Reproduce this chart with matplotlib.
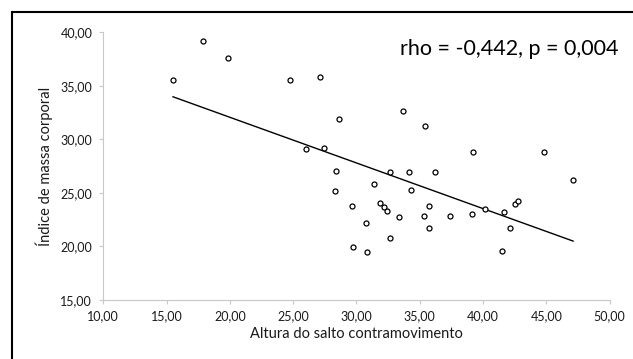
import numpy as np
import matplotlib
matplotlib.use('Agg')
import matplotlib.pyplot as plt
from matplotlib.patches import Rectangle
from matplotlib.ticker import FuncFormatter

plt.rcParams['font.family'] = ['Lato', 'DejaVu Sans']

# ---- data ----
salto = [15.51, 17.87, 19.87, 24.72, 27.12, 28.66, 25.99, 27.43, 33.65, 35.39,
         28.36, 32.62, 34.17, 36.22, 31.36, 28.28, 34.28, 29.62, 31.88, 32.20,
         32.39, 33.36, 35.73, 35.31, 37.42, 35.73, 30.75, 32.62, 29.72, 30.85,
         39.23, 44.83, 47.12, 39.12, 40.17, 41.63, 42.54, 42.76, 42.12, 41.52]
imc = [35.52, 39.19, 37.60, 35.52, 35.85, 31.86, 29.09, 29.22, 32.65, 31.28,
       27.05, 26.93, 26.93, 26.93, 25.86, 25.18, 25.30, 23.81, 24.06, 23.72,
       23.34, 22.78, 23.81, 22.88, 22.88, 21.76, 22.19, 20.82, 19.93, 19.46,
       28.85, 28.85, 26.21, 23.03, 23.47, 23.25, 23.94, 24.28, 21.76, 19.58]
annot = 'rho = -0,442, p = 0,004'
xlabel = 'Altura do salto contramovimento'
ylabel = 'Índice de massa corporal'

x = np.array(salto)
y = np.array(imc)

fig = plt.figure(figsize=(6.33, 3.59), dpi=100)
ax = fig.add_axes([0.1632, 0.1643, 0.7997, 0.7457])

ax.plot(x, y, 'o', ms=3.6, mfc='white', mec='black', mew=0.9, zorder=3)

# linear trend line
k, b = np.polyfit(x, y, 1)
xl = np.array([x.min(), x.max()])
ax.plot(xl, k * xl + b, color='black', lw=1.0, zorder=2)

ax.set_xlim(10, 50)
ax.set_ylim(15, 40)
ax.set_xticks(np.arange(10, 51, 5))
ax.set_yticks(np.arange(15, 41, 5))
fmt = FuncFormatter(lambda v, p: f'{v:.2f}'.replace('.', ','))
ax.xaxis.set_major_formatter(fmt)
ax.yaxis.set_major_formatter(fmt)

for s in ['top', 'right']:
    ax.spines[s].set_visible(False)
for s in ['left', 'bottom']:
    ax.spines[s].set_color('#c8c8c8')
    ax.spines[s].set_linewidth(0.8)
ax.tick_params(colors='#c8c8c8', labelcolor='#1a1a1a', labelsize=9,
               length=3, width=0.8, direction='out')
ax.tick_params(axis='x', pad=4)
ax.tick_params(axis='y', pad=5)

ax.set_xlabel(xlabel, fontsize=10.5, color='#1a1a1a', labelpad=4)
ax.set_ylabel(ylabel, fontsize=10.5, color='#1a1a1a', labelpad=5)

fig.text(0.804, 0.8635, annot, ha='center', va='center', fontsize=15.5, color='black')

# outer chart frame (only left/top visible in the crop)
fig.add_artist(Rectangle((12 / 633, -0.1), 1.2, 1.1 - 12 / 359,
                         transform=fig.transFigure, fill=False,
                         edgecolor='black', lw=1.5))

fig.savefig('out.png', dpi=100)
